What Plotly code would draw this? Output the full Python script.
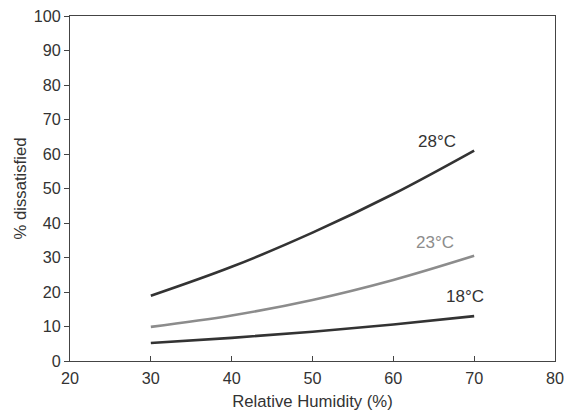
import plotly.graph_objects as go

humidity = [30, 40, 50, 60, 70]
diss_28 = [18.9, 27.3, 37.2, 48.4, 61.0]
diss_23 = [9.9, 13.2, 17.7, 23.5, 30.5]
diss_18 = [5.2, 6.7, 8.5, 10.6, 13.0]

series_names = ["28°C", "23°C", "18°C"]
label_pos = [(65.4, 63.5), (65.2, 34.3), (68.9, 18.6)]
dark = "#333333"
grey = "#8c8c8c"
colors = [dark, grey, dark]
FONT = "Liberation Sans, Arial"

fig = go.Figure()
for name, ys, c in zip(series_names, [diss_28, diss_23, diss_18], colors):
    fig.add_trace(go.Scatter(x=humidity, y=ys, mode="lines", name=name,
                             line=dict(color=c, width=2.6, shape="spline", smoothing=1.0),
                             showlegend=False))

for name, (lx, ly), c in zip(series_names, label_pos, colors):
    fig.add_annotation(x=lx, y=ly, text=name, showarrow=False,
                       font=dict(color=c, size=17, family=FONT))

axis_common = dict(showline=True, linecolor="#444444", linewidth=1, mirror=True,
                   showgrid=False, zeroline=False, ticklen=5, tickcolor="#444444",
                   automargin=False,
                   tickfont=dict(size=16.2, color="#333333", family=FONT))

fig.update_xaxes(range=[20, 80], tickvals=[20, 30, 40, 50, 60, 70, 80], ticks="inside",
                 ticklabelstandoff=3,
                 title=dict(text="Relative Humidity (%)", standoff=8,
                            font=dict(size=16.7, color="#333333", family=FONT)),
                 **axis_common)
fig.update_yaxes(range=[0, 100], tickvals=list(range(0, 101, 10)), ticks="outside",
                 title=dict(text="% dissatisfied", standoff=2,
                            font=dict(size=16.7, color="#333333", family=FONT)),
                 **axis_common)

fig.update_layout(width=575, height=416, margin=dict(l=70, r=20, t=16, b=55),
                  plot_bgcolor="white", paper_bgcolor="white")

fig.write_html("out.html", config={"displayModeBar": False},
               post_script="document.body.style.margin='0';document.body.style.overflow='hidden';")
